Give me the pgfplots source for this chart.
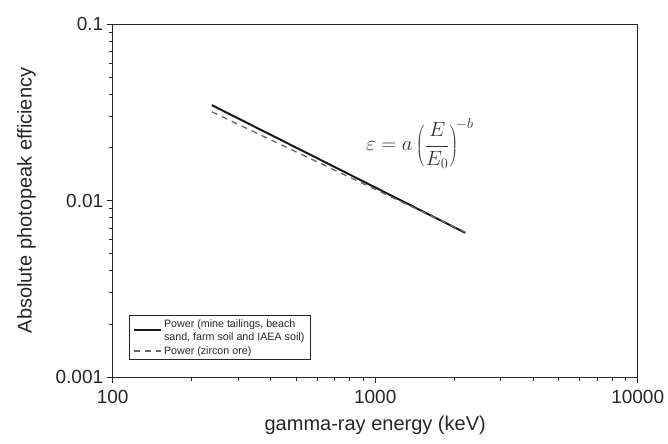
\documentclass[border=0pt]{standalone}
\usepackage{fontspec}
\setmainfont{Liberation Sans}
\usepackage{pgfplots}
\pgfplotsset{compat=1.18}
\begin{document}
\begin{tikzpicture}
  \useasboundingbox (-112.7bp,-66.3bp) rectangle (555.3bp,377bp);
  \begin{axis}[
    scale only axis,
    width=525bp,
    height=353bp,
    xmode=log, ymode=log,
    xmin=100, xmax=10000,
    ymin=0.001, ymax=0.1,
    xtick={100,1000,10000},
    xticklabels={100,1000,10000},
    minor xtick={200,300,400,500,600,700,800,900,2000,3000,4000,5000,6000,7000,8000,9000},
    ytick={0.001,0.01,0.1},
    yticklabels={0.001,0.01,0.1},
    minor ytick={0.002,0.003,0.004,0.005,0.006,0.007,0.008,0.009,0.02,0.03,0.04,0.05,0.06,0.07,0.08,0.09},
    tick align=outside,
    xtick pos=left, ytick pos=left,
    major tick length=6bp,
    minor tick length=4bp,
    tick style={black!85, line width=0.6pt},
    axis line style={black!85, line width=0.9pt},
    ticklabel style={font=\fontsize{19bp}{22bp}\selectfont, text=black!85},
    xticklabel style={yshift=-4bp},
    xlabel={gamma-ray energy (keV)},
    ylabel={Absolute photopeak efficiency},
    label style={font=\fontsize{20bp}{24bp}\selectfont, text=black!85},
    xlabel style={yshift=-5bp},
    ylabel style={yshift=13bp},
    legend style={
      at={(0.0305,0.048)}, anchor=south west,
      font=\fontsize{10.7bp}{13bp}\selectfont,
      text=black!85,
      draw=black!85, line width=0.6pt,
      inner xsep=4bp, inner ysep=2bp,
      cells={anchor=west, align=left},
      row sep=1bp,
    },
    legend cell align=left,
    legend image code/.code={\draw[#1] (0bp,0bp) -- (27bp,0bp);},
  ]

  % fit, mine tailings / beach sand / farm soil / IAEA soil
  \addplot[black!90, line width=2pt] coordinates {
    (238.6,0.0347) (2204,0.00656)
  };
  \addlegendentry{Power (mine tailings, beach\\sand, farm soil and IAEA soil)}

  % fit, zircon ore
  \addplot[black!60, line width=1.3pt, dash pattern=on 6bp off 5bp] coordinates {
    (238.6,0.0318) (2204,0.00662)
  };
  \addlegendentry{Power (zircon ore)}

  \node[font=\fontsize{20bp}{24bp}\selectfont, text=black!80] at (axis cs:1479,0.0211)
    {$\displaystyle\varepsilon = a\left(\frac{E}{E_0}\right)^{\!-b}$};
  \end{axis}
\end{tikzpicture}
\end{document}
